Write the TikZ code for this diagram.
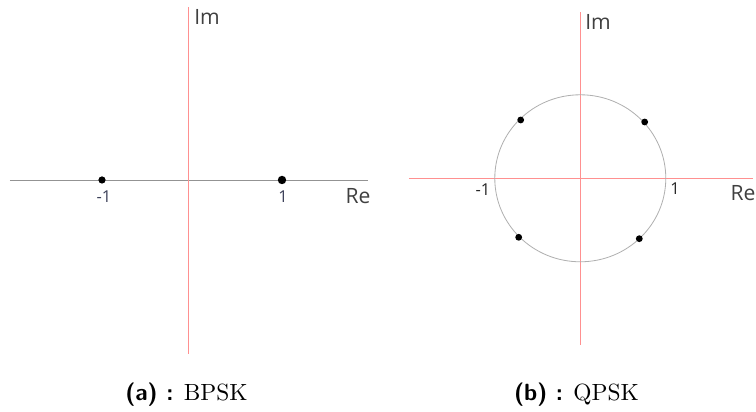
\documentclass[tikz,border=0pt]{standalone}
\usepackage{fontspec}
\newfontfamily\axisfont{Open Sans}
\usepackage{xcolor}
\usepackage{tikz}
\definecolor{axisgray}{HTML}{939393}
\definecolor{axisred}{HTML}{FF9090}
\definecolor{ringgray}{HTML}{B0B0B0}
\definecolor{ticklabel}{HTML}{3C4058}
\tikzset{
  grayaxis/.style={axisgray,line width=0.4pt},
  redaxis/.style={axisred,line width=0.5pt},
  axislabel/.style={font=\axisfont\fontsize{9}{10}\selectfont,text=black!75,inner sep=0pt},
  ticklab/.style={font=\axisfont\fontsize{7}{8}\selectfont,text=ticklabel,inner sep=0pt},
  caption/.style={font=\fontsize{10}{12}\selectfont,inner sep=0pt,anchor=base}
}
\begin{document}
\begin{tikzpicture}[x=0.015cm,y=0.015cm]
  \useasboundingbox (0,0) rectangle (756,412);
  % (a) BPSK
  \coordinate (aW) at (10,232);
  \coordinate (aE) at (368,232);
  \coordinate (aN) at (188.7,405);
  \coordinate (aS) at (188.7,58);
  \draw[grayaxis] (aW) -- (aE);
  \draw[redaxis] (aS) -- (aN);
  \fill[black] (102,232) circle[radius=3.6];
  \fill[black] (282,232) circle[radius=4.2];
  \node[ticklab] (aMinus) at (104,215) {-1};
  \node[ticklab] (aPlus) at (283,215) {1};
  \node[axislabel] (aRe) at (358,216) {Re};
  \node[axislabel] (aIm) at (207,395) {Im};
  \node[caption] (capA) at (186.5,11) {\textsf{\bfseries (a) :} BPSK};
  % (b) QPSK
  \coordinate (bO) at (580.3,233.7);
  \coordinate (bW) at (409,233.7);
  \coordinate (bE) at (753,233.7);
  \coordinate (bN) at (580.3,400);
  \coordinate (bS) at (580.3,67);
  \draw[redaxis] (bW) -- (bE);
  \draw[redaxis] (bS) -- (bN);
  \draw[ringgray,line width=0.35pt] (bO) ellipse[x radius=85.5,y radius=83.5];
  \fill[black] (520.7,292) circle[radius=3.4];
  \fill[black] (644.7,290) circle[radius=3.4];
  \fill[black] (518.7,174.7) circle[radius=3.4];
  \fill[black] (639.3,173.3) circle[radius=3.4];
  \node[ticklab,text=black!85] (bMinus) at (483,222) {-1};
  \node[ticklab,text=black!85] (bPlus) at (675,223) {1};
  \node[axislabel] (bRe) at (743,219) {Re};
  \node[axislabel] (bIm) at (598,390) {Im};
  \node[caption] (capB) at (576.5,11) {\textsf{\bfseries (b) :} QPSK};
\end{tikzpicture}
\end{document}
